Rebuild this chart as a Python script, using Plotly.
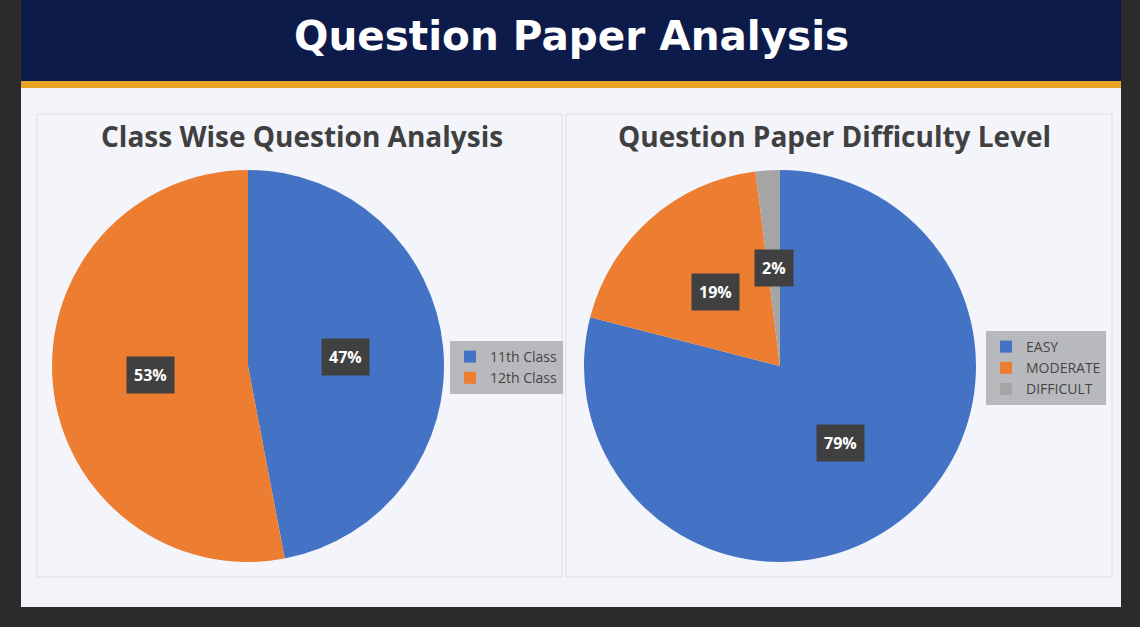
import math
import plotly.graph_objects as go

W, H = 1140, 627

# chart data
class_labels = ["11th Class", "12th Class"]
class_values = [47, 53]
level_labels = ["EASY", "MODERATE", "DIFFICULT"]
level_values = [79, 19, 2]

page_title = "Question Paper Analysis"
left_title = "Class Wise Question Analysis"
right_title = "Question Paper Difficulty Level"

BLUE, ORANGE, GREY = "#4472c4", "#ed7d31", "#a5a5a5"


def px_x(x):
    return x / W


def px_y(y):
    return 1 - y / H


def pie_domain(cx, cy, r):
    return dict(x=[px_x(cx - r), px_x(cx + r)], y=[px_y(cy + r), px_y(cy - r)])


def text_at(x, y, text, **font):
    return dict(x=px_x(x), y=px_y(y), xref="paper", yref="paper", showarrow=False,
                xanchor="center", yanchor="middle", text=text, font=font)


def pct_labels(values, cx, cy, r):
    """Dark boxed percent labels at half radius along each slice's mid angle."""
    total = sum(values)
    out = []
    cum = 0
    for v in values:
        mid = (cum + v / 2) / total * 2 * math.pi
        cum += v
        a = text_at(cx + 0.5 * r * math.sin(mid), cy - 0.5 * r * math.cos(mid),
                    f"<b>{v / total:.0%}</b>", family="Open Sans", size=16, color="white")
        a.update(bgcolor="#404040", borderpad=7)
        out.append(a)
    return out


C1, C2, CY, R = (248, 780, 366, 196)

fig = go.Figure()
fig.add_trace(go.Pie(
    labels=class_labels, values=class_values, sort=False, direction="clockwise",
    marker=dict(colors=[BLUE, ORANGE], line=dict(width=0)),
    textinfo="none", hoverinfo="label+percent",
    domain=pie_domain(C1, CY, R), legend="legend",
))
fig.add_trace(go.Pie(
    labels=level_labels, values=level_values, sort=False, direction="clockwise",
    marker=dict(colors=[BLUE, ORANGE, GREY], line=dict(width=0)),
    textinfo="none", hoverinfo="label+percent",
    domain=pie_domain(C2, CY, R), legend="legend2",
))

shapes = [
    # slide, header band and accent line
    dict(type="rect", x0=px_x(21), x1=px_x(1121), y0=px_y(607), y1=px_y(0),
         fillcolor="#f3f4f9", line_width=0, layer="below"),
    dict(type="rect", x0=px_x(21), x1=px_x(1121), y0=px_y(81), y1=px_y(0),
         fillcolor="#0d1b4a", line_width=0, layer="below"),
    dict(type="rect", x0=px_x(21), x1=px_x(1121), y0=px_y(88), y1=px_y(81),
         fillcolor="#e8a323", line_width=0, layer="below"),
    # chart panels
    dict(type="rect", x0=px_x(37), x1=px_x(562), y0=px_y(577), y1=px_y(114),
         fillcolor="#f4f5fa", line=dict(color="#dcdde2", width=1), layer="below"),
    dict(type="rect", x0=px_x(566), x1=px_x(1112), y0=px_y(577), y1=px_y(114),
         fillcolor="#f4f5fa", line=dict(color="#dcdde2", width=1), layer="below"),
]

annotations = [
    text_at(571, 36, f"<b>{page_title}</b>", family="DejaVu Sans", size=40.5, color="white"),
    text_at(302, 136, f"<b>{left_title}</b>", family="Open Sans", size=28, color="#404040"),
    text_at(834, 136, f"<b>{right_title}</b>", family="Open Sans", size=28, color="#404040"),
]
annotations += pct_labels(class_values, C1, CY, R)
annotations += pct_labels(level_values, C2, CY, R)

legend_style = dict(
    bgcolor="#b8b9bc", borderwidth=0, xanchor="left", yanchor="top",
    font=dict(family="Open Sans", size=14, color="#454545"),
    itemwidth=30, tracegroupgap=0,
)

fig.update_layout(
    width=W, height=H,
    margin=dict(l=0, r=0, t=0, b=0),
    paper_bgcolor="#2b2b2b",
    plot_bgcolor="#2b2b2b",
    shapes=shapes,
    annotations=annotations,
    legend=dict(x=px_x(450), y=px_y(341), **legend_style),
    legend2=dict(x=px_x(986), y=px_y(331), **legend_style),
)

fig.write_html(
    "out.html",
    config={"displayModeBar": False},
    post_script="document.body.style.margin='0';document.body.style.background='#2b2b2b';",
)
